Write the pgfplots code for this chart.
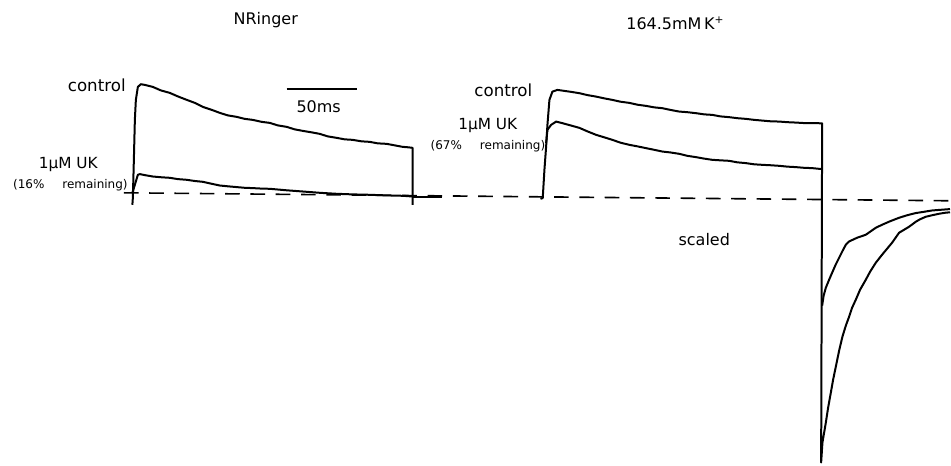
\documentclass[border=0pt]{standalone}
\usepackage{pgfplots}
\pgfplotsset{compat=1.18}
\usepackage{fontspec}
\setmainfont{DejaVu Sans}
\begin{document}
\begin{tikzpicture}
\begin{axis}[
  scale only axis, width=713.25pt, height=349.5pt,
  xmin=0, xmax=951, ymin=0, ymax=466, y dir=reverse,
  hide axis, clip=false,
  tr/.style={black, line width=1.5pt, line join=round, no markers},
]
% invisible frame for bounding box
\addplot[draw=none, no markers] coordinates {(0,0) (951,466)};
% baseline (dashed)
\addplot[black, no markers, line width=1.2pt, dash pattern=on 11pt off 8pt] coordinates {(124,193) (951,201)};
% NRinger control
\addplot[tr] coordinates {
(132.5,205) (133,198) (134,160) (135,120) (136,100) (138,87) (141,84.3) (145,85)
(153,87) (161,90.5) (170,93) (178,96.5) (187,100) (195,103) (203,107) (212,110) (220,113)
(228,115.5) (237,117) (245,119) (253,120) (262,122) (270,123) (278,125.5) (287,127)
(295,129.5) (303,131) (312,132.5) (320,134) (328,136.5) (337,138) (345,139.5) (353,140)
(362,141.5) (370,142) (378,143.5) (387,144) (395,145.5) (403,147) (409,147.5) (413,148) (413,205)};
% NRinger 1uM UK
\addplot[tr] coordinates {
(132.5,193) (135,185) (138,175) (140,174.3) (146,175.5) (153,176.7) (162,177.5) (170,178)
(178,179.3) (187,180) (195,181.2) (203,182) (212,184) (220,185.7) (228,186.5) (237,187.3)
(245,188) (253,188.3) (262,188.8) (270,189) (287,190.5) (303,191.7) (320,193) (337,194)
(353,194.6) (370,195) (387,195.6) (403,196) (413,196.7)};
\addplot[tr] coordinates {(413,197) (442,197)};
% scale bar
\addplot[black, no markers, line width=1.1pt] coordinates {(287,89) (357,89)};
% K+ control with tail
\addplot[tr] coordinates {
(541,199) (543.3,198.3) (545,170) (546.7,146.7) (548,125) (550,100) (553,91.7) (558,90)
(565,91) (572,92) (580,93.3) (588,95.2) (596.7,96.7) (605,98.5) (613,100) (621,101.8)
(630,103) (638,104.8) (646.7,106) (655,107.5) (663,108.3) (671,110) (680,111.7)
(688,112.3) (696.7,113.3) (705,114.5) (713,115) (721,116.5) (730,117.3) (738,118.3)
(746.7,119) (755,120) (763,120.7) (771,121.4) (780,121.7) (788,122.3) (796.7,122.7)
(805,123.2) (813,123.3) (818,123.3) (823,123.5) (822,463)
(823.3,443) (826.7,423) (829,408) (831.7,393) (834,380) (836.7,367) (840,351)
(843.3,337) (846.7,326) (850,317) (853,308) (856.7,300) (861,290) (866.7,280)
(871,272) (876.7,263) (883,255) (888,249) (893,243) (900,233) (905,230) (910,227)
(916.7,222) (921,219.5) (926.7,217) (933,215.5) (940,214) (946,213) (951,212.5)};
% K+ 1uM UK with tail
\addplot[tr] coordinates {
(546.7,143.3) (548,130) (551.7,125) (556.7,121.7) (563,123.3) (571,125.5) (580,128)
(588,131.5) (596.7,135) (605,137.5) (613,140) (621,142.8) (630,145) (638,146.5)
(646.7,148.3) (655,150) (663,151.7) (671,152.6) (680,154) (688,156) (696.7,157.3)
(705,158.8) (713,160) (721,160.5) (730,161) (738,162.5) (746.7,163.3) (755,164.5)
(763,165) (771,165.4) (780,166) (788,166.8) (796.7,167.3) (805,168) (813,168.3)
(823,169.3)};
\addplot[tr] coordinates {
(823,306) (824.5,296) (826.7,288) (830,280) (833,273) (836.5,265) (840,258) (843.5,251)
(846.7,245) (850,241.7) (858,238) (866.7,235) (871,232) (876.7,228) (883,225) (891,221.5)
(900,218) (908,215.5) (916.7,213.3) (925,212) (933,210.7) (942,210) (951,209.3)};
% labels
\node[font=\fontsize{12}{14}\selectfont] at (axis cs:266,20) {NRinger};
\node[font=\fontsize{12}{14}\selectfont] at (axis cs:676,23) {164.5mM\,K\textsuperscript{+}};
\node[font=\fontsize{12.5}{14}\selectfont, anchor=east, inner sep=0pt] at (axis cs:126,85) {control};
\node[font=\fontsize{12}{14}\selectfont] at (axis cs:319,107) {50ms};
\node[font=\fontsize{11.5}{14}\selectfont, anchor=east, inner sep=0pt] at (axis cs:98,165) {1µM UK};
\node[font=\fontsize{9}{11}\selectfont, anchor=east, inner sep=0pt] at (axis cs:128,185) {(16\%\hspace{1.5em}remaining)};
\node[font=\fontsize{12.5}{14}\selectfont, anchor=east, inner sep=0pt] at (axis cs:533,90) {control};
\node[font=\fontsize{11.5}{14}\selectfont, anchor=east, inner sep=0pt] at (axis cs:518,126) {1µM UK};
\node[font=\fontsize{9}{11}\selectfont, anchor=east, inner sep=0pt] at (axis cs:546,146) {(67\%\hspace{1.5em}remaining)};
\node[font=\fontsize{12}{14}\selectfont] at (axis cs:705,240) {scaled};
\end{axis}
\end{tikzpicture}
\end{document}
